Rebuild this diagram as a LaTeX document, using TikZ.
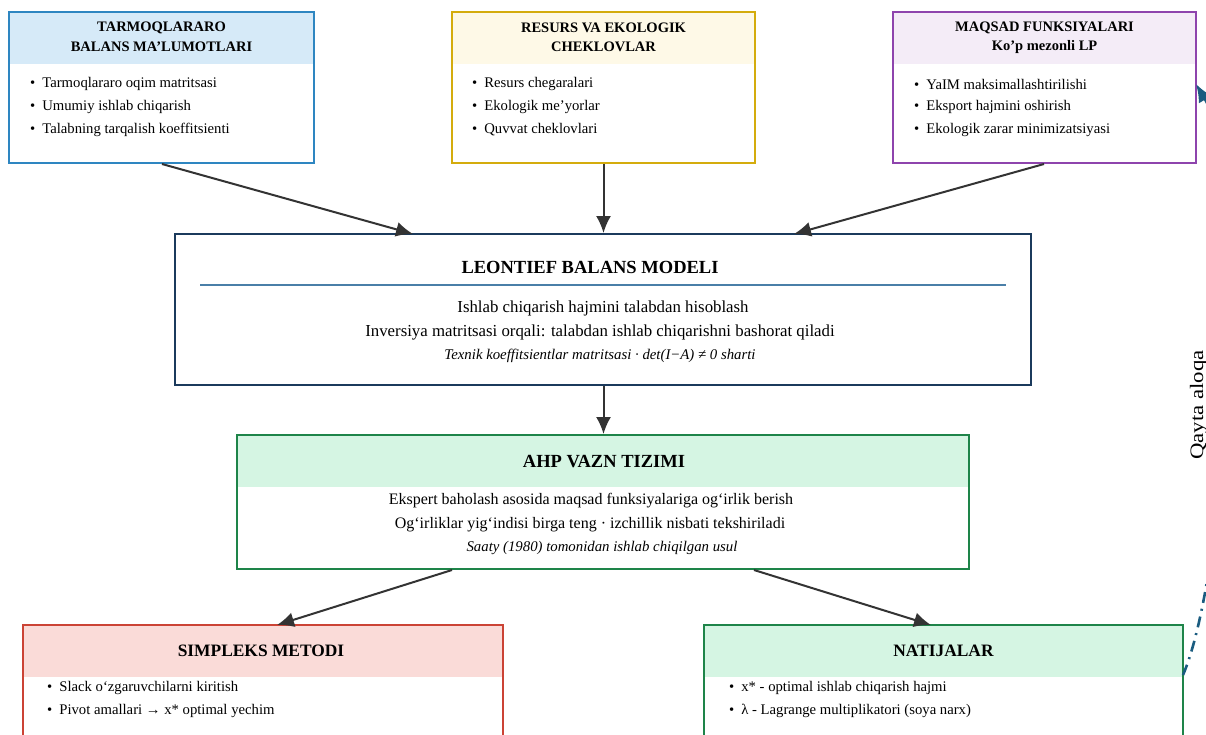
\documentclass[tikz,border=0pt]{standalone}
\usepackage{fontspec}
\setmainfont{Liberation Serif}
\usetikzlibrary{arrows.meta}
\definecolor{cblue}{HTML}{2E86C1}
\definecolor{hblue}{HTML}{D6EAF8}
\definecolor{cgold}{HTML}{D4AC0D}
\definecolor{hgold}{HTML}{FEF9E7}
\definecolor{cpurp}{HTML}{8E44AD}
\definecolor{hpurp}{HTML}{F4ECF7}
\definecolor{cnavy}{HTML}{1B3A5C}
\definecolor{cline}{HTML}{4A7FA8}
\definecolor{cgreen}{HTML}{1E8449}
\definecolor{hgreen}{HTML}{D5F5E3}
\definecolor{cred}{HTML}{CB4335}
\definecolor{hred}{HTML}{FADBD8}
\definecolor{carrow}{HTML}{333333}
\definecolor{cfeed}{HTML}{1A5C80}
\tikzset{
  boxframe/.style={draw=#1, line width=2pt, fill=none, inner sep=0pt},
  ttl/.style={font=\fontsize{14.5}{17}\selectfont\bfseries, inner sep=0pt, anchor=center},
  bigttl/.style={font=\fontsize{18.5}{21}\selectfont\bfseries, inner sep=0pt, anchor=center},
  botttl/.style={font=\fontsize{17.4}{20}\selectfont\bfseries, inner sep=0pt, anchor=center},
  bul/.style={font=\fontsize{14.7}{17}\selectfont, inner sep=0pt, anchor=west},
  txt/.style={font=\fontsize{16.8}{19}\selectfont, inner sep=0pt, anchor=center},
  txtb/.style={font=\fontsize{16}{19}\selectfont, inner sep=0pt, anchor=center},
  itl/.style={font=\fontsize{14.8}{17}\selectfont\itshape, inner sep=0pt, anchor=center},
  conn/.style={draw=carrow, line width=2pt, -{Latex[length=17pt,width=15pt]}},
}
\newcommand{\bx}[6]{% name, x1, y1, x2, y2, color
  \node[boxframe=#6, minimum width={#4-#2}, minimum height={#5-#3}] (#1) at ({(#2+#4)/2},{(#3+#5)/2}) {};}
\newcommand{\bi}[1]{\textbullet\hspace{7pt}#1}
\begin{document}
\begin{tikzpicture}[x=1pt,y=-1pt]
\useasboundingbox (0,0) rectangle (1206,734);
\clip (0,0) rectangle (1206,734);
\fill[white] (0,0) rectangle (1206,734);
% header fills
\fill[hblue] (9,12) rectangle (314,64);
\fill[hgold] (452,12) rectangle (755,64);
\fill[hpurp] (893,12) rectangle (1196,64);
\fill[hgreen] (237,435) rectangle (969,487);
\fill[hred] (23,625) rectangle (503,677);
\fill[hgreen] (704,625) rectangle (1183,677);
% frames
\bx{tb}{9}{12}{314}{163}{cblue}
\bx{rc}{452}{12}{755}{163}{cgold}
\bx{mf}{893}{12}{1196}{163}{cpurp}
\bx{lb}{175}{234}{1031}{385}{cnavy}
\bx{ahp}{237}{435}{969}{569}{cgreen}
\bx{sm}{23}{625}{503}{790}{cred}
\bx{nt}{704}{625}{1183}{790}{cgreen}
% box 1
\node[ttl] (t1a) at (161.5,28) {TARMOQLARARO};
\node[ttl] (t1b) at (161.5,47) {BALANS MA’LUMOTLARI};
\node[bul] (b11) at (30,84) {\bi{Tarmoqlararo oqim matritsasi}};
\node[bul] (b12) at (30,107) {\bi{Umumiy ishlab chiqarish}};
\node[bul] (b13) at (30,130) {\bi{Talabning tarqalish koeffitsienti}};
% box 2
\node[ttl] (t2a) at (603.5,28) {RESURS VA EKOLOGIK};
\node[ttl] (t2b) at (603.5,47) {CHEKLOVLAR};
\node[bul] (b21) at (472,84) {\bi{Resurs chegaralari}};
\node[bul] (b22) at (472,107) {\bi{Ekologik me’yorlar}};
\node[bul] (b23) at (472,130) {\bi{Quvvat cheklovlari}};
% box 3
\node[ttl] (t3a) at (1044.5,28) {MAQSAD FUNKSIYALARI};
\node[ttl] (t3b) at (1044.5,47) {Ko’p mezonli LP};
\node[bul] (b31) at (914,84) {\bi{YaIM maksimallashtirilishi}};
\node[bul] (b32) at (914,107) {\bi{Eksport hajmini oshirish}};
\node[bul] (b33) at (914,130) {\bi{Ekologik zarar minimizatsiyasi}};
% Leontief
\node[bigttl] (t4) at (590,267) {LEONTIEF BALANS MODELI};
\draw[cline, line width=1.2pt] (200,285) -- (1006,285);
\node[txt] (l41) at (603,308) {Ishlab chiqarish hajmini talabdan hisoblash};
\node[txt] (l42) at (600,332) {Inversiya matritsasi orqali: talabdan ishlab chiqarishni bashorat qiladi};
\node[itl] (l43) at (600,356) {Texnik koeffitsientlar matritsasi · det(I−A) ≠ 0 sharti};
% AHP
\node[bigttl] (t5) at (604,462) {AHP VAZN TIZIMI};
\node[txtb] (l51) at (591,501) {Ekspert baholash asosida maqsad funksiyalariga og‘irlik berish};
\node[txtb] (l52) at (590,525) {Og‘irliklar yig‘indisi birga teng · izchillik nisbati tekshiriladi};
\node[itl] (l53) at (602,548) {Saaty (1980) tomonidan ishlab chiqilgan usul};
% Simpleks
\node[botttl] (t6) at (261,651) {SIMPLEKS METODI};
\node[bul] (b61) at (47,688) {\bi{Slack o‘zgaruvchilarni kiritish}};
\node[bul] (b62) at (47,711) {\bi{Pivot amallari → x* optimal yechim}};
% Natijalar
\node[botttl] (t7) at (943.5,651) {NATIJALAR};
\node[bul] (b71) at (729,688) {\bi{x* - optimal ishlab chiqarish hajmi}};
\node[bul] (b72) at (729,711) {\bi{λ - Lagrange multiplikatori (soya narx)}};
% connectors
\coordinate (a1s) at (162,164);
\coordinate (a1e) at (413,234);
\draw[conn] (a1s) -- (a1e);
\draw[conn] (rc.south) -- (rc.south |- lb.north);
\coordinate (a3s) at (1044,164);
\coordinate (a3e) at (794,234);
\draw[conn] (a3s) -- (a3e);
\draw[conn] (lb.south -| rc.south) -- (ahp.north -| rc.south);
\coordinate (a5s) at (452,570);
\coordinate (a5e) at (277,625);
\draw[conn] (a5s) -- (a5e);
\coordinate (a6s) at (754,570);
\coordinate (a6e) at (931,625);
\draw[conn] (a6s) -- (a6e);
% feedback
\coordinate (fbS) at (1183,675);
\coordinate (fbE) at (1196,84);
\draw[cfeed, line width=2.6pt, dash pattern=on 11pt off 6pt on 2pt off 6pt, -{Latex[length=18pt,width=15pt]}]
  (fbS) .. controls (1228,570) and (1250,175) .. (fbE);
\node[font=\fontsize{19}{22}\selectfont, rotate=90, anchor=base, inner sep=0pt, xscale=1.2] (fbl) at (1203,405) {Qayta aloqa};
\end{tikzpicture}
\end{document}
